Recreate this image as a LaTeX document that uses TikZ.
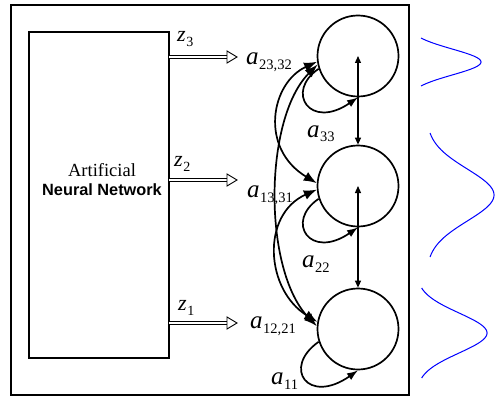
\documentclass[tikz,border=0pt]{standalone}
\usepackage{fontspec}
\setmainfont{Liberation Serif}
\newfontfamily\timesfont{Liberation Serif}
\newfontfamily\arialfont{Liberation Sans}
\usetikzlibrary{arrows.meta}

% weight labels a_{ij} and ANN outputs z_i
\newcommand\alab[2]{{\timesfont\fontsize{25}{25}\selectfont\itshape #1}\kern0.5pt\raisebox{-5pt}{\timesfont\fontsize{14.5}{14.5}\selectfont #2}}
\newcommand\zlab[2]{{\timesfont\fontsize{22}{22}\selectfont\itshape #1}\kern0.5pt\raisebox{-5pt}{\timesfont\fontsize{14}{14}\selectfont #2}}

\tikzset{
  framebox/.style={draw, line width=1.6pt},
  annbox/.style={draw, line width=1.3pt, inner sep=0pt, outer sep=0pt},
  neuron/.style={draw, circle, line width=1.7pt, minimum size=81pt, inner sep=0pt},
  zshaft/.style={double, double distance=2.2pt, line width=0.9pt},
  zhead/.style={draw, fill=white, line width=0.9pt, line join=miter},
  vlink/.style={line width=1.2pt, {Triangle[length=7pt,width=6pt]}-{Triangle[length=7pt,width=6pt]}},
  xlink/.style={line width=1.7pt, {Latex[length=13pt,width=10pt]}-{Latex[length=13pt,width=10pt]}},
  selfloop/.style={line width=1.7pt, -{Latex[length=11pt,width=8pt]}},
  lab/.style={anchor=base west, inner sep=0pt},
  pdf/.style={draw=blue, line width=1pt},
}

\begin{document}
\begin{tikzpicture}[x=1pt,y=-1pt]
\useasboundingbox (0,0) rectangle (495,401);

% outer frame
\draw[framebox] (11,5) rectangle (409,395);

% neural network block
\node[annbox, minimum width=140pt, minimum height=326pt] (ann) at (99,195) {};
\node[anchor=base, inner sep=0pt, font=\timesfont\fontsize{18.5}{18}\selectfont] (anntop) at (102,176) {Artificial};
\node[anchor=base, inner sep=0pt, font=\arialfont\bfseries\fontsize{16.3}{16}\selectfont] (annbot) at (102,195) {Neural Network};

% HMM states
\node[neuron] (c3) at (358,56) {};
\node[neuron] (c2) at (358,186) {};
\node[neuron] (c1) at (358,329) {};

% ANN outputs: double shaft ending in a hollow head
\coordinate (t3) at (237,57);
\coordinate (t2) at (237,180);
\coordinate (t1) at (237,323);
\foreach \t in {t3,t2,t1}{
  \draw[zshaft] (ann.east |- \t) -- ([xshift=-9pt]\t);
  \draw[zhead] (\t) -- ++(-10,-6) -- ++(0,12) -- cycle;
}
\node[lab] (z3) at (177,42) {\zlab{z}{3}};
\node[lab] (z2) at (174,166) {\zlab{z}{2}};
\node[lab] (z1) at (178,310) {\zlab{z}{1}};

% vertical links
\draw[vlink] (c3.center) -- (c2.north);
\draw[vlink] (c2.center) -- (c1.north);

% transitions between states
\draw[xlink] (c3.188) .. controls +(-46,21) and +(-58,-35) .. (c2.176);
\draw[xlink] (c2.185) .. controls +(-56,25) and +(-52,-32) .. (c1.170);
\draw[xlink] (c3.192) .. controls +(-54,54) and +(-54,-56) .. (c1.176);

% self transitions
\draw[selfloop] (c3.198) .. controls +(-34,23) and +(-48,33) .. (c3.south);
\draw[selfloop] (c2.198) .. controls +(-34,23) and +(-48,33) .. (c2.south);
\draw[selfloop] (c1.198) .. controls +(-37,26) and +(-50,35) .. (c1.south);

% weight labels
\node[lab] (l3) at (246,65) {\alab{a}{23,32}};
\node[lab] (l33) at (307,137) {\alab{a}{33}};
\node[lab] (l2) at (247,197) {\alab{a}{13,31}};
\node[lab] (l22) at (302,267) {\alab{a}{22}};
\node[lab] (l1) at (250,328) {\alab{a}{12,21}};
\node[lab] (l11) at (271,384) {\alab{a}{11}};

% output densities
\draw[pdf] plot[domain=-24:24, samples=80, smooth] ({407.7+73.3*exp(-(\x)^2/338)}, {62+\x});
\draw[pdf] plot[domain=-62:62, samples=120, smooth] ({426.1+67.9*exp(-(\x)^2/1352)}, {195+\x});
\draw[pdf] plot[domain=-45:45, samples=100, smooth] ({416+71*exp(-(\x)^2/800)}, {333+\x});
\end{tikzpicture}
\end{document}
